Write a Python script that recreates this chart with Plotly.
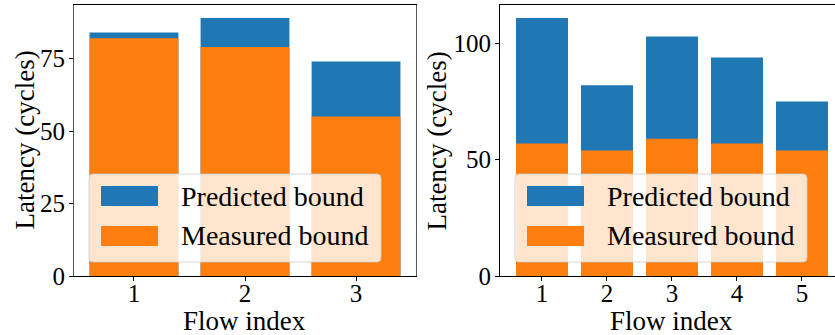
import plotly.graph_objects as go

# Latency per flow: predicted upper bound vs. measured worst case
flows_a = [1, 2, 3]
predicted_a = [84, 89, 74]
measured_a = [82, 79, 55]

flows_b = [1, 2, 3, 4, 5]
predicted_b = [111, 82, 103, 94, 75]
measured_b = [57, 54, 59, 57, 54]

series_names = ["Predicted bound", "Measured bound"]
colors = ["#1f77b4", "#ff7f0e"]
ytick_a = [0, 25, 50, 75]
ytick_b = [0, 50, 100]

W, H = 835, 335
FONT = "Liberation Serif"
FS_TICK = 25
FS_TITLE = 27
FS_LEG = 28


def px(x):
    return x / W


def py(y):
    return 1 - y / H


# panel frames in pixels (left, right, top, bottom, y-title offset);
# the right panel runs off the edge of the canvas
PANELS = [(74, 416, 5, 276, 49), (500, 843, 5, 276, 63)]

fig = go.Figure()
for i, (flows, pred, meas) in enumerate(
    [(flows_a, predicted_a, measured_a), (flows_b, predicted_b, measured_b)]
):
    ax = "" if i == 0 else "2"
    for name, vals, col in zip(series_names, [pred, meas], colors):
        fig.add_trace(go.Bar(
            x=flows, y=vals, name=name, width=0.8,
            marker=dict(color=col, line=dict(width=0)),
            xaxis="x" + ax, yaxis="y" + ax, showlegend=False,
        ))

tick_font = dict(family=FONT, size=FS_TICK, color="black")
common_x = dict(showgrid=False, zeroline=False, ticks="outside", ticklen=4,
                tickwidth=1, tickcolor="black", tickfont=tick_font,
                showline=True, linecolor="black", linewidth=1, mirror=True,
                automargin=False, ticklabelstandoff=-9)
common_y = dict(showgrid=False, zeroline=False, ticks="outside", ticklen=4,
                tickwidth=1, tickcolor="black", tickfont=tick_font,
                showline=True, linewidth=1, automargin=False,
                ticklabelstandoff=-1)

l0, r0, t0, b0, _ = PANELS[0]
l1, r1, t1, b1, _ = PANELS[1]
fig.update_layout(
    width=W, height=H, margin=dict(l=0, r=0, t=0, b=0, autoexpand=False),
    paper_bgcolor="white", plot_bgcolor="white", barmode="overlay",
    showlegend=False,
    xaxis=dict(domain=[px(l0), px(r0)], range=[0.46, 3.54],
               tickvals=flows_a, anchor="y", **common_x),
    yaxis=dict(domain=[py(b0), py(t0)], range=[0, max(predicted_a) * 1.05],
               tickvals=ytick_a, anchor="x", linecolor="#555555", mirror=True,
               **common_y),
    xaxis2=dict(domain=[px(l1), 1.0], range=[0.354, 5.508],
                tickvals=flows_b, anchor="y2", **common_x),
    yaxis2=dict(domain=[py(b1), py(t1)], range=[0, max(predicted_b) * 1.05],
                tickvals=ytick_b, anchor="x2", linecolor="black", mirror=False,
                **common_y),
)

shapes = []
annotations = []
for (l, r, t, b, yoff) in PANELS:
    # axis titles
    annotations.append(dict(
        text="Flow index", x=px((l + r) / 2), y=py(338),
        xref="paper", yref="paper", xanchor="center", yanchor="bottom",
        showarrow=False, font=dict(family=FONT, size=FS_TITLE, color="black")))
    annotations.append(dict(
        text="Latency (cycles)", x=px(l - yoff), y=py((t + b) / 2),
        xref="paper", yref="paper", xanchor="center", yanchor="middle",
        textangle=-90, showarrow=False,
        font=dict(family=FONT, size=FS_TITLE, color="black")))

    # legend box (rounded, translucent white)
    bx0, bx1, by0, by1 = l + 15, l + 307, b - 102, b - 14
    rad = 4
    path = (
        f"M {px(bx0 + rad)},{py(by0)} L {px(bx1 - rad)},{py(by0)} "
        f"Q {px(bx1)},{py(by0)} {px(bx1)},{py(by0 + rad)} "
        f"L {px(bx1)},{py(by1 - rad)} "
        f"Q {px(bx1)},{py(by1)} {px(bx1 - rad)},{py(by1)} "
        f"L {px(bx0 + rad)},{py(by1)} "
        f"Q {px(bx0)},{py(by1)} {px(bx0)},{py(by1 - rad)} "
        f"L {px(bx0)},{py(by0 + rad)} "
        f"Q {px(bx0)},{py(by0)} {px(bx0 + rad)},{py(by0)} Z"
    )
    shapes.append(dict(type="path", path=path, xref="paper", yref="paper",
                       fillcolor="rgba(255,255,255,0.8)",
                       line=dict(color="rgba(204,204,204,0.8)", width=1),
                       layer="above"))
    for k, (name, col) in enumerate(zip(series_names, colors)):
        cy = by0 + 22 + k * 40
        shapes.append(dict(type="rect", xref="paper", yref="paper",
                           x0=px(bx0 + 12), x1=px(bx0 + 69),
                           y0=py(cy - 10), y1=py(cy + 10),
                           fillcolor=col, line=dict(width=0), layer="above"))
        annotations.append(dict(
            text=name, x=px(bx0 + 90), y=py(cy), xref="paper", yref="paper",
            xanchor="left", yanchor="middle", showarrow=False,
            font=dict(family=FONT, size=FS_LEG, color="black")))

fig.update_layout(shapes=shapes, annotations=annotations)
fig.write_html("out.html")
